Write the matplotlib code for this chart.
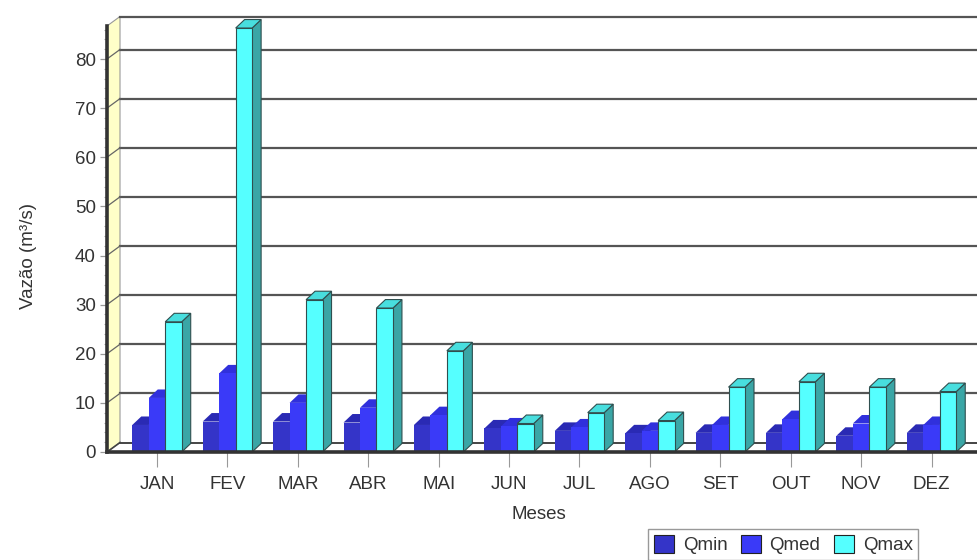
import numpy as np
import matplotlib.pyplot as plt
from matplotlib.patches import Polygon, Rectangle, Patch

plt.rcParams["font.family"] = ["Liberation Sans", "DejaVu Sans"]

# vazoes mensais (m3/s)
meses = ["JAN", "FEV", "MAR", "ABR", "MAI", "JUN",
         "JUL", "AGO", "SET", "OUT", "NOV", "DEZ"]
qmin = [5.5, 6.2, 6.2, 6.0, 5.5, 4.8, 4.3, 3.8, 3.9, 3.9, 3.3, 3.9]
qmed = [11.0, 16.0, 10.0, 9.0, 7.5, 5.2, 5.0, 4.3, 5.5, 6.7, 5.8, 5.5]
qmax = [26.5, 86.3, 31.0, 29.3, 20.6, 5.8, 8.0, 6.4, 13.2, 14.3, 13.2, 12.3]

series = [
    ("Qmin", qmin, "#3434c8", "#2626a0", "#2a2ab4", "none"),
    ("Qmed", qmed, "#3a3af8", "#2c2cc8", "#3030dc", "none"),
    ("Qmax", qmax, "#55ffff", "#3aa6a6", "#48dede", "#2f4f4f"),
]

FS = 13.5
W, H = 978, 560
fig = plt.figure(figsize=(W / 100, H / 100), dpi=100)
fig.patch.set_facecolor("white")
ax = fig.add_axes([107 / W, 108 / H, 871 / W, 426 / H])
ax.set_xlim(-0.71, 11.66)
ax.set_ylim(0, 426 / 4.9125)


def px(dx, dy):
    """pixel offset -> data offset"""
    sx = ax.bbox.width / np.diff(ax.get_xlim())[0]
    sy = ax.bbox.height / np.diff(ax.get_ylim())[0]
    return dx / sx, dy / sy


x0, x1 = ax.get_xlim()
ytop = ax.get_ylim()[1]
wdx, wdy = px(13, 9.5)   # profundidade da parede
bdx, bdy = px(9, 8.5)    # profundidade das barras

# parede lateral amarela
ax.add_patch(Polygon([(x0, 0), (x0, ytop), (x0 + wdx, ytop + wdy), (x0 + wdx, wdy)],
                     closed=True, fc="#ffffc8", ec="#999999", lw=0.8,
                     clip_on=False, zorder=1))

# linhas de grade na parede do fundo
for v in list(range(10, 90, 10)) + [ytop]:
    ax.plot([x0 + wdx, x1 + 1], [v + wdy, v + wdy], color="#555555", lw=1.6,
            clip_on=False, zorder=1)
    if v < ytop:
        ax.plot([x0, x0 + wdx], [v, v + wdy], color="#666666", lw=0.9,
                clip_on=False, zorder=1)
ax.plot([x0, x0 + wdx], [0, wdy], color="#444444", lw=1.2, clip_on=False, zorder=1)
ax.plot([x0 + wdx, x1 + 1], [wdy, wdy], color="#444444", lw=1.4, clip_on=False, zorder=1)

# barras 3D
w = 0.234
for i in range(len(meses)):
    for k, (nome, vals, face, side, top, edge) in enumerate(series):
        x = i - 1.5 * w + k * w
        h = vals[i]
        z = 3 + i * 3 + k
        lw = 0.8 if edge != "none" else 0
        ax.add_patch(Polygon([(x + w, 0), (x + w + bdx, bdy), (x + w + bdx, h + bdy), (x + w, h)],
                             closed=True, fc=side, ec=edge, lw=lw, clip_on=False, zorder=z))
        ax.add_patch(Polygon([(x, h), (x + w, h), (x + w + bdx, h + bdy), (x + bdx, h + bdy)],
                             closed=True, fc=top, ec=edge, lw=lw, clip_on=False, zorder=z))
        ax.add_patch(Rectangle((x, 0), w, h, fc=face, ec=edge, lw=lw,
                               clip_on=False, zorder=z))

# eixos
for s in ["top", "right"]:
    ax.spines[s].set_visible(False)
for s in ["left", "bottom"]:
    ax.spines[s].set_color("#333333")
    ax.spines[s].set_linewidth(2.6)
    ax.spines[s].set_zorder(60)

ax.set_xticks(range(len(meses)))
ax.set_xticklabels(meses)
ax.set_yticks(range(0, 81, 10))
ax.set_yticks(range(0, 87, 2), minor=True)
ax.tick_params(axis="x", length=11, width=0.8, color="#999999", pad=6,
               labelsize=FS, labelcolor="#333333")
ax.tick_params(axis="y", which="major", length=5, width=0.9, color="#999999", pad=3,
               labelsize=FS, labelcolor="#333333")
ax.tick_params(axis="y", which="minor", length=2.5, width=0.8, color="#aaaaaa")

ax.set_ylabel("Vazão (m³/s)", fontsize=FS, color="#333333")
ax.yaxis.set_label_coords((37 - 107) / 871, 0.46)
ax.set_xlabel("Meses", fontsize=FS, color="#333333")
ax.xaxis.set_label_coords((539 - 107) / 871, -(506 - 452) / 426)

handles = [Patch(fc=s[2], ec="#222222", lw=0.8, label=s[0]) for s in series]
leg = fig.legend(handles=handles, ncol=3, loc="upper left",
                 bbox_to_anchor=(648 / W, 1 - 529 / H), borderaxespad=0,
                 fontsize=FS, handlelength=1.1, handleheight=1.1,
                 handletextpad=0.45, columnspacing=0.7, borderpad=0.3,
                 fancybox=False, framealpha=1, edgecolor="#999999")
for t in leg.get_texts():
    t.set_color("#333333")

fig.savefig("out.png", dpi=100, facecolor="white")
